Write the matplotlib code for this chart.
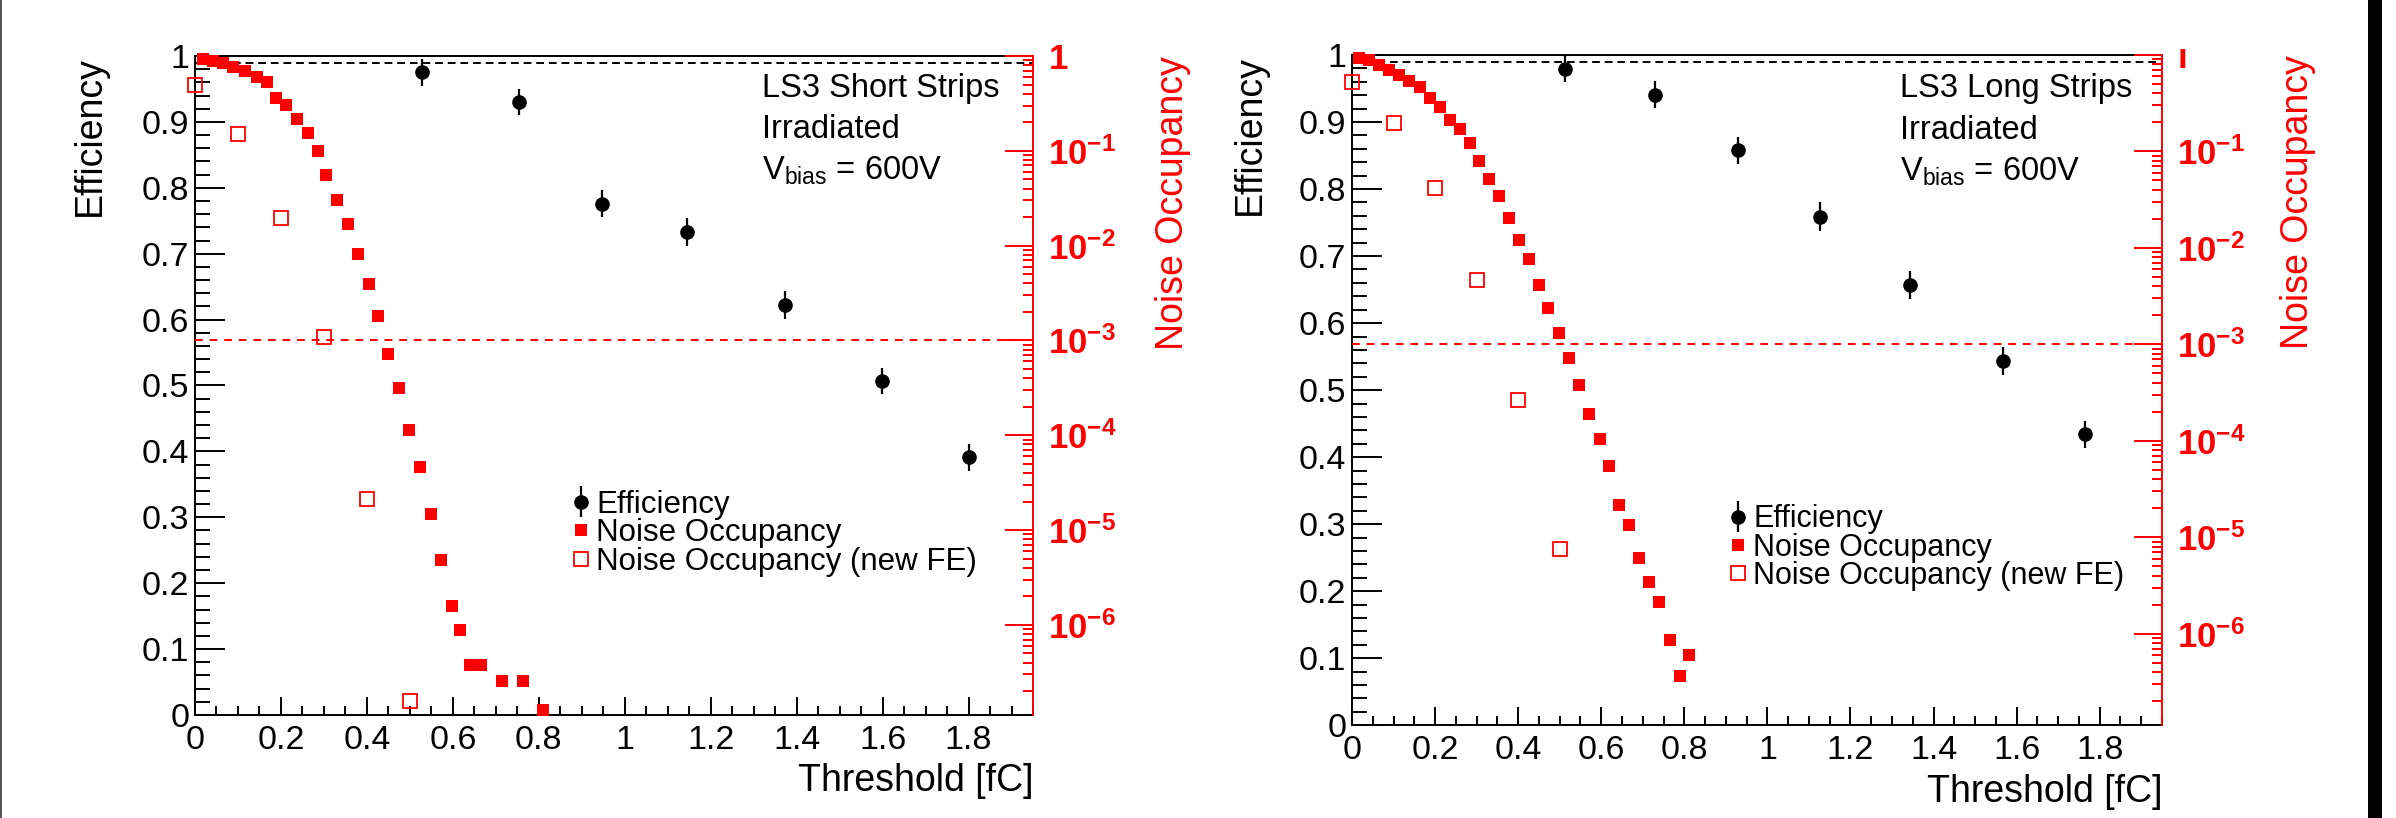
import numpy as np
import matplotlib
matplotlib.use('Agg')
import matplotlib.pyplot as plt
from matplotlib.ticker import MultipleLocator, FuncFormatter, FixedLocator, NullFormatter
from matplotlib.patches import Rectangle

plt.rcParams['font.family'] = ['Liberation Sans', 'DejaVu Sans']
plt.rcParams['mathtext.fontset'] = 'custom'
plt.rcParams['mathtext.rm'] = 'Liberation Sans'
plt.rcParams['mathtext.it'] = 'Liberation Sans:italic'
plt.rcParams['mathtext.bf'] = 'Liberation Sans:bold'

# --- short strips ---
short_eff_thr = [0.528, 0.754, 0.947, 1.146, 1.372, 1.599, 1.800]
short_eff = [0.975, 0.930, 0.776, 0.733, 0.622, 0.507, 0.391]
short_eff_err = [0.020, 0.020, 0.021, 0.021, 0.021, 0.020, 0.020]

short_occ_thr = [0.019, 0.043, 0.066, 0.089, 0.117, 0.144, 0.167, 0.188, 0.212, 0.237,
                 0.262, 0.286, 0.305, 0.330, 0.355, 0.379, 0.404, 0.425, 0.449, 0.474,
                 0.498, 0.523, 0.548, 0.573, 0.597, 0.616, 0.641, 0.666, 0.715, 0.764,
                 0.810]
short_occ = [0.929, 0.891, 0.838, 0.771, 0.700, 0.605, 0.528, 0.358, 0.304, 0.216,
             0.153, 0.100, 0.0556, 0.0303, 0.0168, 8.15e-3, 3.91e-3, 1.82e-3, 7.19e-4, 3.17e-4,
             1.14e-4, 4.66e-5, 1.48e-5, 4.83e-6, 1.59e-6, 8.81e-7, 3.77e-7, 3.77e-7, 2.57e-7, 2.57e-7,
             1.26e-7]

short_new_thr = [0.0, 0.1, 0.2, 0.3, 0.4, 0.5]
short_new_occ = [0.494, 0.149, 0.0194, 1.08e-3, 2.11e-5, 1.57e-7]

# --- long strips ---
long_eff_thr = [0.513, 0.730, 0.929, 1.127, 1.344, 1.567, 1.765]
long_eff = [0.979, 0.941, 0.858, 0.759, 0.657, 0.543, 0.434]
long_eff_err = [0.020, 0.020, 0.020, 0.021, 0.021, 0.021, 0.020]

long_occ_thr = [0.016, 0.040, 0.064, 0.088, 0.112, 0.138, 0.164, 0.187, 0.211, 0.235,
                0.259, 0.285, 0.305, 0.329, 0.354, 0.379, 0.403, 0.425, 0.449, 0.473,
                0.498, 0.523, 0.547, 0.571, 0.597, 0.618, 0.642, 0.666, 0.691, 0.716,
                0.740, 0.766, 0.790, 0.811]
long_occ = [0.933, 0.885, 0.794, 0.692, 0.622, 0.536, 0.467, 0.357, 0.288, 0.214,
            0.169, 0.123, 0.0802, 0.0524, 0.0341, 0.0205, 0.0122, 7.66e-3, 4.17e-3, 2.37e-3,
            1.30e-3, 7.16e-4, 3.78e-4, 1.91e-4, 1.04e-4, 5.52e-5, 2.14e-5, 1.34e-5, 6.12e-6, 3.41e-6,
            2.11e-6, 8.61e-7, 3.66e-7, 6.05e-7]

long_new_thr = [0.0, 0.1, 0.2, 0.3, 0.4, 0.5]
long_new_occ = [0.519, 0.195, 0.0414, 4.65e-3, 2.63e-4, 7.60e-6]

legend_labels = ['Efficiency', 'Noise Occupancy', 'Noise Occupancy (new FE)']

occ_min, occ_max = 1.12e-7, 1.0
decades = [10.0 ** -k for k in range(7)]
sub_decades = [m * 10.0 ** -k for k in range(1, 8) for m in range(2, 10)
               if occ_min <= m * 10.0 ** -k <= occ_max]


def occ_label(top):
    def fmt(v, pos):
        e = int(round(np.log10(v)))
        if e == 0:
            return top
        return r'$\mathbf{10^{%d}}$' % e
    return fmt


def draw_panel(ax, name, eff_thr, eff, eff_err, occ_thr, occ, new_thr, new_occ,
               leg_pos, leg_fs, top_label):
    ax.set_xlim(0, 1.95)
    ax.set_ylim(0, 1)
    ax.axhline(0.99, color='black', lw=1.4, ls=(0, (4, 2.5)), zorder=1)
    eb = ax.errorbar(eff_thr, eff, yerr=eff_err, fmt='o', color='black', ms=9.5,
                     elinewidth=1.6, capsize=0, clip_on=False, zorder=5)

    ax.xaxis.set_major_locator(MultipleLocator(0.2))
    ax.xaxis.set_minor_locator(MultipleLocator(0.05))
    ax.yaxis.set_major_locator(MultipleLocator(0.1))
    ax.yaxis.set_minor_locator(MultipleLocator(0.02))
    ax.xaxis.set_major_formatter(FuncFormatter(lambda v, p: '%g' % round(v, 2)))
    ax.yaxis.set_major_formatter(FuncFormatter(lambda v, p: '%g' % round(v, 2)))
    ax.tick_params(which='both', direction='in', top=False, right=False,
                   width=1.4, labelsize=24.5)
    ax.tick_params(axis='y', which='major', length=21.5, pad=4)
    ax.tick_params(axis='y', which='minor', length=10.8)
    ax.tick_params(axis='x', which='major', length=13, pad=7)
    ax.tick_params(axis='x', which='minor', length=6.5)
    for s in ['left', 'bottom', 'top']:
        ax.spines[s].set_linewidth(1.4)
    ax.spines['right'].set_visible(False)

    ax.set_ylabel('Efficiency', fontsize=27, loc='top')
    ax.yaxis.set_label_coords(-0.1035, 1.0)
    ax.set_xlabel('Threshold [fC]', fontsize=27, loc='right')
    ax.xaxis.set_label_coords(1.0, -0.073)

    ax.text(1.32, 0.938, name, fontsize=23.5, va='baseline')
    ax.text(1.32, 0.875, 'Irradiated', fontsize=23.5, va='baseline')
    ax.text(1.32, 0.813, r'V$_{\mathregular{bias}}$ = 600V', fontsize=23.5, va='baseline')

    # noise occupancy on the log axis
    ax2 = ax.twinx()
    ax2.set_yscale('log')
    ax2.set_ylim(occ_min, occ_max)
    ax2.axhline(1e-3, color='red', lw=1.4, ls=(0, (4, 3.5)), zorder=1)
    sq, = ax2.plot(occ_thr, occ, 's', color='red', ms=9, mew=0, ls='none', clip_on=False)
    op, = ax2.plot(new_thr, new_occ, 's', mfc='none', mec='red', ms=10, mew=1.3,
                   ls='none', clip_on=False)

    ax2.yaxis.set_major_locator(FixedLocator(decades))
    ax2.yaxis.set_minor_locator(FixedLocator(sub_decades))
    ax2.yaxis.set_minor_formatter(NullFormatter())
    ax2.yaxis.set_major_formatter(FuncFormatter(occ_label(top_label)))
    ax2.tick_params(axis='y', which='both', direction='in', colors='red', width=1.4,
                    pad=11, labelsize=25)
    ax2.tick_params(axis='y', which='major', length=20)
    ax2.tick_params(axis='y', which='minor', length=7.2)
    for s in ['left', 'bottom', 'top']:
        ax2.spines[s].set_visible(False)
    ax2.spines['right'].set_color('red')
    ax2.spines['right'].set_linewidth(1.4)
    ax2.set_ylabel('Noise Occupancy', color='red', fontsize=27, loc='top')
    ax2.yaxis.set_label_coords(1.1456, 1.0)

    ax2.legend([eb, sq, op], legend_labels, loc='center left', bbox_to_anchor=leg_pos,
               frameon=False, fontsize=leg_fs, handlelength=0.6, handletextpad=0.2,
               labelspacing=-0.05, borderpad=0, borderaxespad=0)
    return ax2


fig = plt.figure(figsize=(23.96, 8.18), dpi=100)
ax_l = fig.add_axes([0.08139, 0.12592, 0.34975, 0.80562])
ax_r = fig.add_axes([0.56427, 0.11333, 0.33807, 0.81943])

draw_panel(ax_l, 'LS3 Short Strips', short_eff_thr, short_eff, short_eff_err,
           short_occ_thr, short_occ, short_new_thr, short_new_occ,
           (0.449, 0.276), 22.5, r'$\mathbf{1}$')
draw_panel(ax_r, 'LS3 Long Strips', long_eff_thr, long_eff, long_eff_err,
           long_occ_thr, long_occ, long_new_thr, long_new_occ,
           (0.465, 0.265), 22, r'$\mathbf{ı}$')

# frame edges of the page
fig.add_artist(Rectangle((0, 0), 2 / 2396, 1, transform=fig.transFigure,
                         color='#555555', lw=0))
fig.add_artist(Rectangle((2368 / 2396, 0), 14 / 2396, 1, transform=fig.transFigure,
                         color='black', lw=0))

fig.savefig('out.png', dpi=100)
